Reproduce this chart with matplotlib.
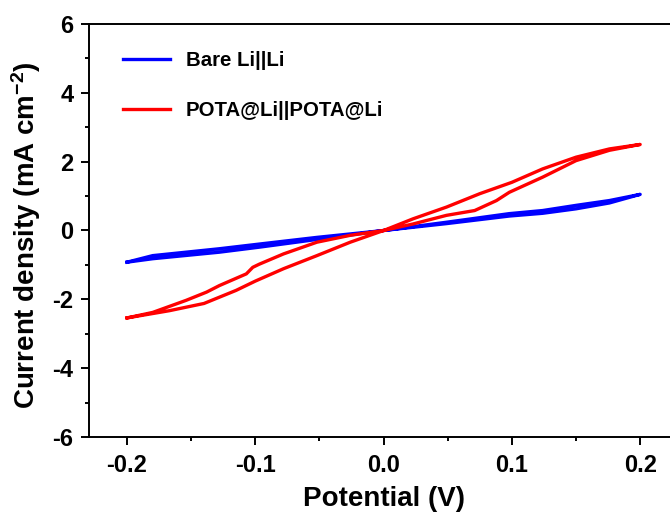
import matplotlib
matplotlib.use("Agg")
import matplotlib.pyplot as plt
from matplotlib.ticker import MultipleLocator

# ===================== Data =====================

# Bare Li||Li, forward and reverse sweep
bare_fwd_v = [-0.2, -0.18, -0.128, -0.096, -0.052, 0.0, 0.049, 0.098, 0.124, 0.15, 0.176, 0.2]
bare_fwd_i = [-0.92, -0.82, -0.63, -0.48, -0.26, 0.0, 0.20, 0.42, 0.50, 0.63, 0.80, 1.05]
bare_rev_v = [0.2, 0.176, 0.15, 0.124, 0.098, 0.049, 0.0, -0.052, -0.096, -0.128, -0.18, -0.2]
bare_rev_i = [1.05, 0.87, 0.73, 0.58, 0.49, 0.24, 0.0, -0.20, -0.39, -0.53, -0.73, -0.92]

# POTA@Li||POTA@Li, forward and reverse sweep
pota_fwd_v = [-0.2, -0.167, -0.14, -0.115, -0.1, -0.078, -0.052, -0.026, 0.0,
              0.023, 0.049, 0.075, 0.1, 0.124, 0.15, 0.176, 0.2]
pota_fwd_i = [-2.54, -2.33, -2.12, -1.74, -1.47, -1.11, -0.73, -0.34, 0.0,
              0.34, 0.68, 1.07, 1.40, 1.79, 2.13, 2.37, 2.5]
pota_rev_v = [0.2, 0.176, 0.15, 0.124, 0.098, 0.088, 0.071, 0.049, 0.023, 0.0,
              -0.026, -0.052, -0.078, -0.097, -0.102, -0.107, -0.128, -0.138, -0.154, -0.18, -0.2]
pota_rev_i = [2.5, 2.33, 2.03, 1.55, 1.11, 0.87, 0.58, 0.44, 0.19, 0.0,
              -0.14, -0.34, -0.68, -0.98, -1.07, -1.26, -1.60, -1.79, -2.03, -2.38, -2.54]

# ===================== Style =====================

plt.rcParams["font.family"] = ["Liberation Sans", "DejaVu Sans"]
plt.rcParams["font.weight"] = "bold"
plt.rcParams["axes.unicode_minus"] = False
plt.rcParams["mathtext.fontset"] = "custom"
plt.rcParams["mathtext.rm"] = "Liberation Sans:bold"
plt.rcParams["mathtext.it"] = "Liberation Sans:bold"
plt.rcParams["mathtext.bf"] = "Liberation Sans:bold"

# ===================== Plot =====================

fig = plt.figure(figsize=(6.7, 5.16), dpi=100)
ax = fig.add_axes([0.1322, 0.1531, 0.8807, 0.8004])

lw = 2.4
ax.plot(bare_fwd_v + bare_rev_v, bare_fwd_i + bare_rev_i, color="#0000ff", lw=lw, label="Bare Li||Li")
ax.plot(pota_fwd_v + pota_rev_v, pota_fwd_i + pota_rev_i, color="#ff0000", lw=lw, label="POTA@Li||POTA@Li")

ax.set_xlim(-0.23, 0.23)
ax.set_ylim(-6, 6)
ax.xaxis.set_major_locator(MultipleLocator(0.1))
ax.xaxis.set_minor_locator(MultipleLocator(0.05))
ax.yaxis.set_major_locator(MultipleLocator(2))
ax.yaxis.set_minor_locator(MultipleLocator(1))
ax.set_xticks(ax.get_xticks())
ax.set_xticklabels([f"{t:.1f}" for t in ax.get_xticks()])
ax.set_xlim(-0.23, 0.23)

for s in ax.spines.values():
    s.set_linewidth(1.4)
ax.tick_params(which="major", direction="out", length=6, width=1.4, labelsize=17, pad=5)
ax.tick_params(axis="x", which="major", pad=6)
ax.tick_params(which="minor", direction="out", length=3, width=1.4)

ax.set_xlabel("Potential (V)", fontsize=20, fontweight="bold", labelpad=7)
ax.set_ylabel(r"Current density (mA cm$^{-2}$)", fontsize=20, fontweight="bold")
ax.yaxis.set_label_coords(-0.078, 0.489)

ax.legend(loc="upper left", bbox_to_anchor=(0.028, 0.978), frameon=False,
          fontsize=14.7, handlelength=2.3, handletextpad=0.75, labelspacing=1.5)

fig.savefig("out.png", dpi=100)
plt.close(fig)
